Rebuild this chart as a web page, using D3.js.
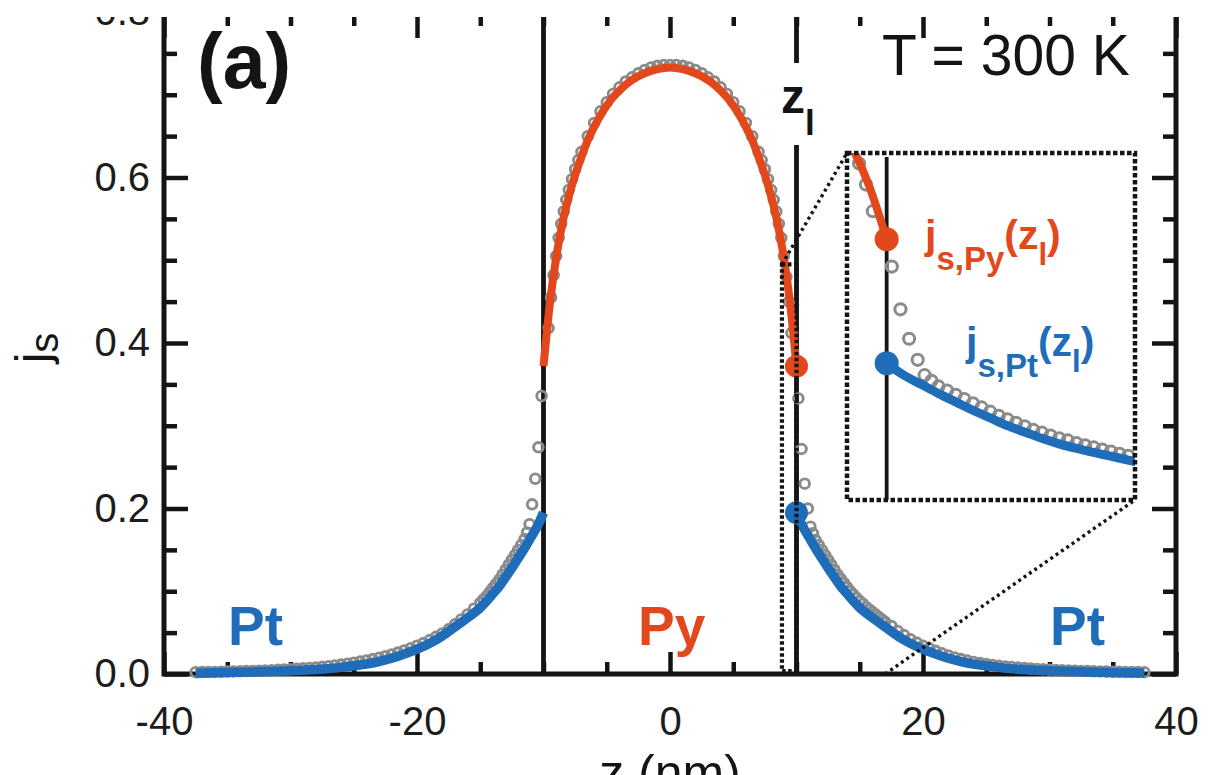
<!DOCTYPE html>
<html><head><meta charset="utf-8">
<script src="https://cdn.jsdelivr.net/npm/d3@7"></script>
<style>
html,body{margin:0;padding:0;background:#fff;}
svg{display:block;}
</style></head><body>
<svg id="chart" width="1212" height="775"></svg>
<script>
// ---------------- data ----------------
const xDomain = [-40, 40];
const yDomain = [0, 0.8];
const xMajorTicks = [-40, -20, 0, 20, 40];
const xMinorTicks = [-35, -30, -25, -15, -10, -5, 5, 10, 15, 25, 30, 35];
const yMajorTicks = [0, 0.2, 0.4, 0.6, 0.8];
const yMinorTicks = [0.05, 0.1, 0.15, 0.25, 0.3, 0.35, 0.45, 0.5, 0.55, 0.65, 0.7, 0.75];
const interfaceZ = [-10, 10];
const zl = 10;
const dotJ = [0.372, 0.195];          // j_s,Py(z_l), j_s,Pt(z_l)
const zoomXDomain = [8.85, 17.2];     // region shown in the inset
const zoomYDomain = [0, 0.495];

// model curves
const pyLine = [[-10,0.372],[-9.5,0.447],[-9,0.503],[-8.5,0.545],[-8,0.577],[-7.5,0.603],[-7,0.625],[-6.5,0.645],[-6,0.661],[-5.5,0.675],[-5,0.687],[-4.5,0.697],[-4,0.705],[-3.5,0.712],[-3,0.718],[-2,0.726],[-1,0.731],[0,0.733],[1,0.731],[2,0.726],[3,0.718],[3.5,0.712],[4,0.705],[4.5,0.697],[5,0.687],[5.5,0.675],[6,0.661],[6.5,0.645],[7,0.625],[7.5,0.603],[8,0.577],[8.5,0.545],[9,0.503],[9.5,0.447],[10,0.372]];
const ptLeftLine = [[-37.5,0.001],[-36,0.0015],[-34,0.002],[-32,0.003],[-30,0.0038],[-29,0.0045],[-28,0.0055],[-27,0.0065],[-26,0.008],[-25,0.010],[-24,0.012],[-23,0.015],[-22,0.019],[-21,0.024],[-20,0.030],[-19,0.037],[-18,0.046],[-17,0.057],[-16,0.068],[-15,0.080],[-14.5,0.088],[-14,0.097],[-13.5,0.106],[-13,0.117],[-12.5,0.128],[-12,0.140],[-11.5,0.152],[-11,0.165],[-10.5,0.178],[-10,0.195]];
const ptRightLine = [[10,0.195],[10.5,0.178],[11,0.165],[11.5,0.152],[12,0.140],[12.5,0.128],[13,0.117],[13.5,0.106],[14,0.097],[14.5,0.088],[15,0.080],[16,0.068],[17,0.057],[18,0.046],[19,0.037],[20,0.030],[21,0.024],[22,0.019],[23,0.015],[24,0.012],[25,0.010],[26,0.008],[27,0.0065],[28,0.0055],[29,0.0045],[30,0.0038],[32,0.003],[34,0.002],[36,0.0015],[37.5,0.001]];

// simulation (open circles)
const simPtLeft = [[-37.5,0.0022],[-37,0.0023],[-36.5,0.0024],[-36,0.0025],[-35.5,0.0027],[-35,0.0029],[-34.5,0.0031],[-34,0.0033],[-33.5,0.0035],[-33,0.0037],[-32.5,0.004],[-32,0.0043],[-31.5,0.0046],[-31,0.005],[-30.5,0.0054],[-30,0.0058],[-29.5,0.0063],[-29,0.0068],[-28.5,0.0074],[-28,0.008],[-27.5,0.0087],[-27,0.0095],[-26.5,0.0104],[-26,0.0114],[-25.5,0.0125],[-25,0.0137],[-24.5,0.015],[-24,0.0164],[-23.5,0.018],[-23,0.0197],[-22.5,0.0216],[-22,0.0237],[-21.5,0.026],[-21,0.0285],[-20.5,0.0312],[-20,0.0342],[-19.5,0.0374],[-19,0.041],[-18.5,0.0449],[-18,0.049],[-17.5,0.054],[-17,0.06],[-16.5,0.066],[-16,0.072],[-15.5,0.079],[-15,0.086],[-14.75,0.09],[-14.5,0.094],[-14.25,0.099],[-14,0.104],[-13.75,0.109],[-13.5,0.114],[-13.25,0.12],[-13,0.126],[-12.75,0.132],[-12.5,0.138],[-12.25,0.144],[-12,0.15],[-11.75,0.156],[-11.5,0.163],[-11.3,0.171],[-11.1,0.181],[-10.9,0.205],[-10.65,0.236],[-10.4,0.274],[-10.15,0.336]];
const simPy = [[-9.6,0.418],[-9.4,0.455],[-9.2,0.482],[-9,0.505],[-8.8,0.527],[-8.6,0.544],[-8.4,0.559],[-8.2,0.573],[-8,0.585],[-7.75,0.598],[-7.5,0.61],[-7.25,0.621],[-7,0.631],[-6.5,0.65],[-6,0.666],[-5.5,0.68],[-5,0.691],[-4.5,0.701],[-4,0.709],[-3.5,0.716],[-3,0.721],[-2.5,0.726],[-2,0.73],[-1.5,0.733],[-1,0.735],[-0.5,0.736],[0,0.736],[0.5,0.736],[1,0.735],[1.5,0.733],[2,0.73],[2.5,0.726],[3,0.721],[3.5,0.716],[4,0.709],[4.5,0.701],[5,0.691],[5.5,0.68],[6,0.666],[6.5,0.65],[7,0.631],[7.25,0.621],[7.5,0.61],[7.75,0.598],[8,0.585],[8.2,0.573],[8.4,0.559],[8.6,0.544],[8.8,0.527],[9,0.505],[9.2,0.48],[9.4,0.45],[9.6,0.412]];
const simPtRight = [[10.15,0.333],[10.4,0.272],[10.65,0.23],[10.9,0.2],[11.1,0.178],[11.3,0.17],[11.5,0.162],[11.75,0.156],[12,0.15],[12.25,0.144],[12.5,0.138],[12.75,0.132],[13,0.126],[13.25,0.12],[13.5,0.115],[13.75,0.11],[14,0.105],[14.25,0.1],[14.5,0.096],[14.75,0.092],[15,0.088],[15.25,0.085],[15.5,0.081],[15.75,0.078],[16,0.075],[16.25,0.072],[16.5,0.069],[16.75,0.066],[17,0.063],[17.5,0.058],[18,0.052],[18.5,0.047],[19,0.042],[19.5,0.038],[20,0.034],[20.5,0.031],[21,0.028],[21.5,0.025],[22,0.0225],[22.5,0.02],[23,0.018],[23.5,0.0162],[24,0.0146],[24.5,0.0132],[25,0.012],[25.5,0.011],[26,0.01],[26.5,0.0092],[27,0.0085],[27.5,0.0078],[28,0.0072],[28.5,0.0066],[29,0.0061],[29.5,0.0056],[30,0.0052],[30.5,0.0048],[31,0.0045],[31.5,0.0042],[32,0.0039],[32.5,0.0037],[33,0.0035],[33.5,0.0033],[34,0.0031],[34.5,0.0029],[35,0.0028],[35.5,0.0026],[36,0.0025],[36.5,0.0024],[37,0.0023],[37.5,0.0022]];

// ---------------- drawing ----------------
const FONT = '"Liberation Sans", Arial, Helvetica, sans-serif';
const INK = '#141414', ORANGE = '#e2481c', BLUE = '#1f6db8', GRAY = '#8b8b8b';
const svg = d3.select('#chart');
const x = d3.scaleLinear().domain(xDomain).range([164, 1176]);
const y = d3.scaleLinear().domain(yDomain).range([674, 12]);

// frame
svg.append('rect').attr('x', x(xDomain[0])).attr('y', y(yDomain[1]))
  .attr('width', x(xDomain[1]) - x(xDomain[0])).attr('height', y(yDomain[0]) - y(yDomain[1]))
  .attr('fill', 'none').attr('stroke', INK).attr('stroke-width', 5);

function ax(axis, tr) {
  const g = svg.append('g').attr('transform', tr).call(axis);
  g.select('.domain').remove();
  g.selectAll('.tick line').attr('stroke', INK).attr('stroke-width', 4.5);
  g.selectAll('.tick text').attr('font-family', FONT).attr('font-size', 40).attr('fill', '#1c1c1c');
  return g;
}
ax(d3.axisBottom(x).tickValues(xMinorTicks).tickSize(-12).tickFormat(''), `translate(0,${y(0)})`);
ax(d3.axisBottom(x).tickValues(xMajorTicks).tickSize(-22).tickPadding(33).tickFormat(d => String(d)), `translate(0,${y(0)})`);
ax(d3.axisTop(x).tickValues(xMinorTicks).tickSize(-14).tickFormat(''), `translate(0,${y(0.8)})`);
ax(d3.axisTop(x).tickValues(xMajorTicks).tickSize(-26).tickFormat(''), `translate(0,${y(0.8)})`);
ax(d3.axisLeft(y).tickValues(yMinorTicks).tickSize(-13).tickFormat(''), `translate(${x(-40)},0)`);
ax(d3.axisLeft(y).tickValues(yMajorTicks).tickSize(-24).tickPadding(14).tickFormat(d3.format('.1f')), `translate(${x(-40)},0)`);
ax(d3.axisRight(y).tickValues(yMinorTicks).tickSize(-13).tickFormat(''), `translate(${x(40)},0)`);
ax(d3.axisRight(y).tickValues(yMajorTicks).tickSize(-24).tickFormat(''), `translate(${x(40)},0)`);

// interface lines
const zlGap = [63, 145];
interfaceZ.forEach(z => {
  const segs = (z === zl) ? [[y(0.8), zlGap[0]], [zlGap[1], y(0)]] : [[y(0.8), y(0)]];
  segs.forEach(s => svg.append('line').attr('x1', x(z)).attr('x2', x(z)).attr('y1', s[0]).attr('y2', s[1])
    .attr('stroke', INK).attr('stroke-width', 4.8));
});

const simAll = simPtLeft.concat(simPy, simPtRight);
function drawData(g, sx, sy, r, sw, lwPy, lwPt, dotR) {
  const line = d3.line().x(d => sx(d[0])).y(d => sy(d[1])).curve(d3.curveMonotoneX);
  g.append('g').selectAll('circle').data(simAll).join('circle')
    .attr('cx', d => sx(d[0])).attr('cy', d => sy(d[1])).attr('r', r)
    .attr('fill', 'none').attr('stroke', GRAY).attr('stroke-width', sw);
  g.append('path').datum(pyLine).attr('d', line).attr('fill', 'none').attr('stroke', ORANGE).attr('stroke-width', lwPy);
  [ptLeftLine, ptRightLine].forEach(dd => g.append('path').datum(dd).attr('d', line)
    .attr('fill', 'none').attr('stroke', BLUE).attr('stroke-width', lwPt));
  g.append('circle').attr('cx', sx(zl)).attr('cy', sy(dotJ[0])).attr('r', dotR).attr('fill', ORANGE);
  g.append('circle').attr('cx', sx(zl)).attr('cy', sy(dotJ[1])).attr('r', dotR).attr('fill', BLUE);
}
drawData(svg.append('g'), x, y, 4.8, 2.9, 8, 9.5, 11.5);

// zoom marker
const inset = {x0: 847, x1: 1135, y0: 153, y1: 500};
svg.append('rect').attr('x', x(zoomXDomain[0])).attr('y', y(zoomYDomain[1]))
  .attr('width', x(zl) - x(zoomXDomain[0])).attr('height', y(0) - y(zoomYDomain[1]) - 3)
  .attr('fill', 'none').attr('stroke', INK).attr('stroke-width', 4.2).attr('stroke-dasharray', '3.5,2.5');
svg.append('line').attr('x1', x(zoomXDomain[0])).attr('y1', y(zoomYDomain[1])).attr('x2', inset.x0).attr('y2', inset.y0)
  .attr('stroke', INK).attr('stroke-width', 3.4).attr('stroke-dasharray', '3,3.5');
svg.append('line').attr('x1', x(17)).attr('y1', y(0)).attr('x2', inset.x1).attr('y2', inset.y1)
  .attr('stroke', INK).attr('stroke-width', 3.4).attr('stroke-dasharray', '3,3.5');

// inset
const ix = d3.scaleLinear().domain(zoomXDomain).range([inset.x0, inset.x1]);
const iy = d3.scaleLinear().domain(zoomYDomain).range([inset.y1, inset.y0]);
svg.append('clipPath').attr('id', 'insetClip').append('rect')
  .attr('x', inset.x0).attr('y', inset.y0).attr('width', inset.x1 - inset.x0).attr('height', inset.y1 - inset.y0);
const ig = svg.append('g').attr('clip-path', 'url(#insetClip)');
ig.append('line').attr('x1', ix(zl)).attr('x2', ix(zl)).attr('y1', inset.y0 + 4).attr('y2', inset.y1)
  .attr('stroke', INK).attr('stroke-width', 3.8);
drawData(ig, ix, iy, 5.6, 3, 8, 9, 12);
svg.append('rect').attr('x', inset.x0).attr('y', inset.y0).attr('width', inset.x1 - inset.x0).attr('height', inset.y1 - inset.y0)
  .attr('fill', 'none').attr('stroke', INK).attr('stroke-width', 4.5).attr('stroke-dasharray', '4.5,2.5');

// texts
function txt(xp, yp, s, size, weight, color, anchor) {
  return svg.append('text').attr('x', xp).attr('y', yp).text(s).attr('font-family', FONT)
    .attr('font-size', size).attr('font-weight', weight || 'normal').attr('fill', color || INK)
    .attr('text-anchor', anchor || 'start');
}
txt(197, 88, '(a)', 77, 'bold');
txt(882, 75, 'T = 300 K', 57, 'normal');
txt(228, 645, 'Pt', 55, 'bold', BLUE);
txt(638, 645, 'Py', 55, 'bold', ORANGE);
txt(1050, 645, 'Pt', 55, 'bold', BLUE);

// z_l label
const zt = svg.append('text').attr('x', 781).attr('y', 113).attr('font-family', FONT).attr('font-weight', 'bold').attr('fill', INK);
zt.append('tspan').attr('font-size', 48).text('z');
zt.append('tspan').attr('font-size', 35).attr('dy', 22).text('l');

function subLabel(xp, yp, sub, color) {
  const t = svg.append('text').attr('x', xp).attr('y', yp).attr('font-family', FONT).attr('font-weight', 'bold').attr('fill', color);
  t.append('tspan').attr('font-size', 41).text('j');
  t.append('tspan').attr('font-size', 33).attr('dy', 21).text(sub);
  t.append('tspan').attr('font-size', 41).attr('dy', -21).text('(z');
  t.append('tspan').attr('font-size', 31).attr('dy', 16).text('l');
  t.append('tspan').attr('font-size', 41).attr('dy', -16).text(')');
}
subLabel(925, 249, 's,Py', ORANGE);
subLabel(966, 356, 's,Pt', BLUE);

// axis titles
const yt = svg.append('text').attr('transform', 'translate(49,348) rotate(-90)').attr('text-anchor', 'middle')
  .attr('font-family', FONT).attr('fill', INK);
yt.append('tspan').attr('font-size', 48).text('j');
yt.append('tspan').attr('font-size', 40).attr('dy', 9).text('s');
txt(670, 790, 'z (nm)', 50, 'normal', INK, 'middle');

// cropped top edge of the original figure
svg.append('rect').attr('x', 0).attr('y', 0).attr('width', 1212).attr('height', 17).attr('fill', '#fff');
</script>
</body></html>
